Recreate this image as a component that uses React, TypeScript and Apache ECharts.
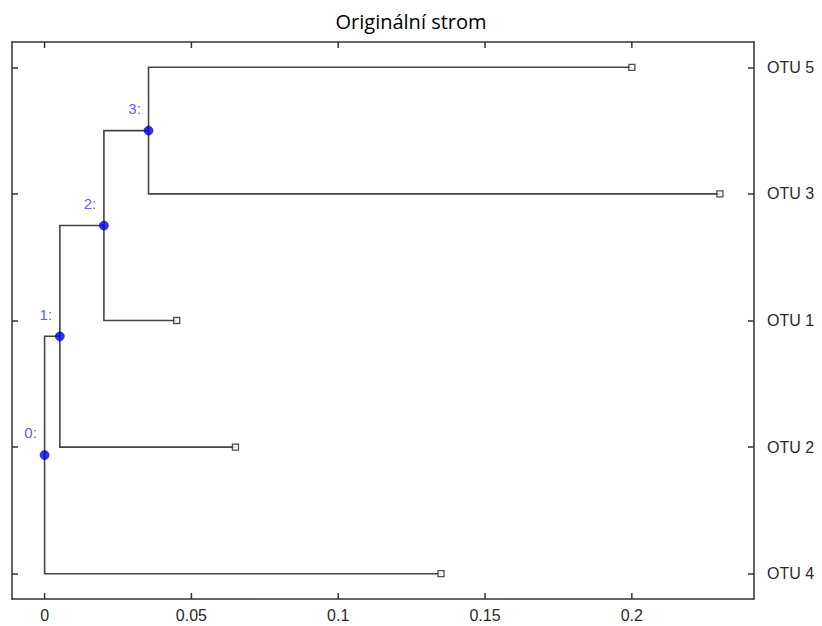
import React, { useEffect, useRef } from "react";
import * as echarts from "echarts";

// Leaves listed bottom to top (row positions 1..5)
const leafNames = ["OTU 4", "OTU 2", "OTU 1", "OTU 3", "OTU 5"];
const leafDist = [0.135, 0.065, 0.045, 0.23, 0.2];

// Internal branch nodes
const nodeNames = ["0:", "1:", "2:", "3:"];
const nodeDist = [0, 0.0052, 0.0202, 0.0354];
const nodeChildren = [
  ["OTU 4", "1:"],
  ["OTU 2", "2:"],
  ["OTU 1", "3:"],
  ["OTU 3", "OTU 5"],
];

const xTicks = [0, 0.05, 0.1, 0.15, 0.2];
const xTickLabels = ["0", "0.05", "0.1", "0.15", "0.2"];
const yTicks = [1, 2, 3, 4, 5];

const CHART_W = 822;
const CHART_H = 626;
const GRID = { left: 12, right: 68, top: 42, bottom: 27 };

function layout() {
  const pos: Record<string, [number, number]> = {};
  leafNames.forEach((n, i) => (pos[n] = [leafDist[i], i + 1]));
  const getY = (name: string): number => {
    if (pos[name]) return pos[name][1];
    const i = nodeNames.indexOf(name);
    const ys = nodeChildren[i].map(getY);
    const y = ys.reduce((a, b) => a + b, 0) / ys.length;
    pos[name] = [nodeDist[i], y];
    return y;
  };
  nodeNames.forEach(getY);
  const edges: number[][][] = [];
  nodeNames.forEach((n, i) => {
    const [px, py] = pos[n];
    nodeChildren[i].forEach((c) => {
      const [cx, cy] = pos[c];
      edges.push([
        [px, py],
        [px, cy],
        [cx, cy],
      ]);
    });
  });
  return { pos, edges };
}

export default function App() {
  const ref = useRef<HTMLDivElement>(null);
  useEffect(() => {
    if (!ref.current) return;
    const chart = echarts.init(ref.current, null, { renderer: "svg" });
    const { pos, edges } = layout();
    const tickFont = {
      fontFamily: "Liberation Sans, Arial, sans-serif",
      fontSize: 16,
      color: "#2a2a2a",
    };
    const xMin = -0.0111;
    const xMax = 0.2416;
    const yMin = 0.8;
    const yMax = 5.2;
    const tickStyle = { color: "#333", width: 1.5 };
    const line = { show: true, onZero: false, lineStyle: { color: "#333", width: 1.5 } };
    const yTick = {
      show: true,
      inside: true,
      length: 6,
      customValues: yTicks,
      lineStyle: tickStyle,
    };
    // x tick marks (6 px long) on the bottom and top frame edges, as short segments
    const plotH = CHART_H - GRID.top - GRID.bottom;
    const tickDy = (6 / plotH) * (yMax - yMin);
    const xTickSegs = [
      ...xTicks.map((v) => ({ coords: [[v, yMin], [v, yMin + tickDy]] })),
      ...xTicks.map((v) => ({ coords: [[v, yMax], [v, yMax - tickDy]] })),
    ];
    chart.setOption({
      animation: false,
      backgroundColor: "#ffffff",
      title: {
        text: "Originální strom",
        left: "center",
        top: 6,
        textStyle: {
          fontFamily: "Open Sans, sans-serif",
          fontSize: 20,
          fontWeight: "normal",
          color: "#000",
        },
      },
      grid: { ...GRID, show: false },
      xAxis: [
        {
          type: "value",
          position: "bottom",
          min: xMin,
          max: xMax,
          splitLine: { show: false },
          axisLine: line,
          axisTick: { show: false },
          axisLabel: {
            ...tickFont,
            margin: 8,
            customValues: xTicks,
            formatter: (v: number) => {
              const i = xTicks.findIndex((t) => Math.abs(t - v) < 1e-9);
              return i >= 0 ? xTickLabels[i] : "";
            },
          },
        },
        {
          type: "value",
          position: "top",
          min: xMin,
          max: xMax,
          splitLine: { show: false },
          axisLine: line,
          axisTick: { show: false },
          axisLabel: { show: false },
        },
      ],
      yAxis: [
        {
          type: "value",
          position: "left",
          min: yMin,
          max: yMax,
          splitLine: { show: false },
          axisLine: line,
          axisTick: yTick,
          axisLabel: { show: false },
        },
        {
          type: "value",
          position: "right",
          min: yMin,
          max: yMax,
          splitLine: { show: false },
          axisLine: line,
          axisTick: yTick,
          axisLabel: {
            ...tickFont,
            margin: 13,
            customValues: yTicks,
            formatter: (v: number) => {
              const i = Math.round(v) - 1;
              return leafNames[i] ?? "";
            },
          },
        },
      ],
      series: [
        {
          type: "lines",
          coordinateSystem: "cartesian2d",
          xAxisIndex: 0,
          yAxisIndex: 0,
          polyline: true,
          silent: true,
          lineStyle: { color: "#333", width: 1.5, opacity: 1 },
          data: xTickSegs,
          z: 1,
        },
        {
          type: "lines",
          coordinateSystem: "cartesian2d",
          xAxisIndex: 0,
          yAxisIndex: 0,
          polyline: true,
          silent: true,
          lineStyle: { color: "#444", width: 1.6, opacity: 1 },
          data: edges.map((coords) => ({ coords })),
          z: 2,
        },
        {
          type: "scatter",
          xAxisIndex: 0,
          yAxisIndex: 0,
          symbol: "rect",
          symbolSize: 6,
          itemStyle: { color: "#fff", borderColor: "#222", borderWidth: 1.3 },
          data: leafNames.map((n) => pos[n]),
          z: 3,
        },
        {
          type: "scatter",
          xAxisIndex: 0,
          yAxisIndex: 0,
          symbol: "circle",
          symbolSize: 9,
          itemStyle: { color: "#0000f0", borderColor: "#00008a", borderWidth: 0.6 },
          data: nodeNames.map((n) => ({ value: pos[n], name: n })),
          label: {
            show: true,
            position: "top",
            distance: 4,
            offset: [-14, -6],
            formatter: (p: any) => p.name,
            fontFamily: "Liberation Sans, Arial, sans-serif",
            fontSize: 15,
            color: "#3434e6",
          },
          z: 4,
        },
      ],
    });
    return () => chart.dispose();
  }, []);
  return (
    <div
      ref={ref}
      style={{ position: "fixed", left: 0, top: 0, width: CHART_W, height: CHART_H }}
    />
  );
}
